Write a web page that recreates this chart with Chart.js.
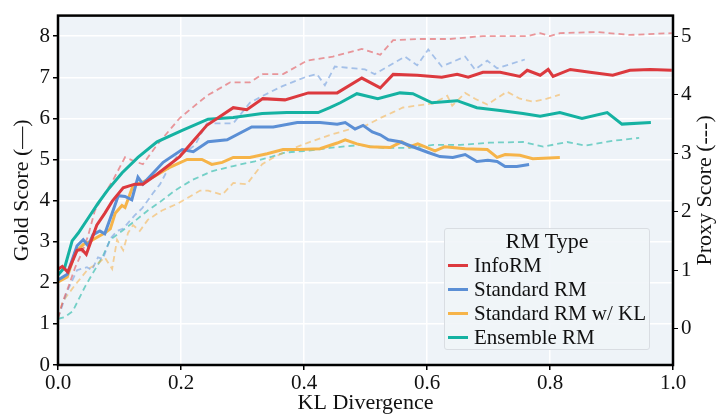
<!DOCTYPE html>
<html>
<head>
<meta charset="utf-8">
<script src="https://cdn.jsdelivr.net/npm/chart.js@4.4.1/dist/chart.umd.min.js"></script>
<style>
  body { margin: 0; background: #fff; }
  #wrap { position: relative; width: 716px; height: 415px; }
  #legend {
    position: absolute; left: 444px; top: 228px; width: 206px; height: 122px;
    box-sizing: border-box; background: rgba(240, 244, 248, 0.85);
    border: 1px solid #d9dde2; border-radius: 3px;
    font-family: "Liberation Serif", "Times New Roman", serif; color: #111;
  }
  #legend .title { text-align: center; font-size: 22px; line-height: 24px; height: 24px; }
  #legend .item { position: relative; height: 24px; line-height: 24px; font-size: 21px; white-space: nowrap; }
  #legend .item span { position: absolute; left: 3px; top: 11px; width: 20px; height: 3px; }
  #legend .item b { position: absolute; left: 29px; font-weight: normal; }
</style>
</head>
<body>
<div id="wrap">
  <canvas id="graphic" width="716" height="415"></canvas>
  <div id="legend"></div>
</div>
<script>
const ctx = document.getElementById('graphic');

const rmTypes = ['InfoRM', 'Standard RM', 'Standard RM w/ KL', 'Ensemble RM'];
const colors = ['#dc393e', '#5b8fd5', '#f6b449', '#15b2a2'];
const dashedColors = ['rgba(228,90,96,0.62)', 'rgba(110,155,220,0.58)', 'rgba(247,180,80,0.58)', 'rgba(40,185,170,0.62)'];

const klTicks = [0, 0.2, 0.4, 0.6, 0.8, 1.0];
const goldTicks = [0, 1, 2, 3, 4, 5, 6, 7, 8];
const proxyTicks = [0, 1, 2, 3, 4, 5];

// InfoRM
const infoGoldKL = [0, 0.007, 0.016, 0.031, 0.039, 0.046, 0.063, 0.076, 0.088, 0.106, 0.125, 0.138, 0.161, 0.198, 0.242, 0.285, 0.307, 0.333, 0.369, 0.407, 0.454, 0.494, 0.524, 0.545, 0.584, 0.624, 0.649, 0.667, 0.691, 0.719, 0.751, 0.763, 0.784, 0.797, 0.805, 0.833, 0.865, 0.902, 0.930, 0.963, 0.998];
const infoGold = [2.33, 2.40, 2.26, 2.79, 2.81, 2.69, 3.40, 3.69, 3.98, 4.31, 4.40, 4.40, 4.64, 5.07, 5.83, 6.26, 6.21, 6.48, 6.45, 6.62, 6.62, 6.98, 6.74, 7.07, 7.05, 7.00, 7.07, 7.00, 7.12, 7.12, 7.02, 7.17, 7.05, 7.19, 7.02, 7.19, 7.12, 7.05, 7.17, 7.19, 7.17];
const infoProxyKL = [0, 0.008, 0.016, 0.028, 0.039, 0.049, 0.060, 0.076, 0.089, 0.109, 0.125, 0.138, 0.161, 0.198, 0.242, 0.280, 0.312, 0.333, 0.366, 0.405, 0.447, 0.494, 0.524, 0.545, 0.589, 0.637, 0.691, 0.763, 0.784, 0.800, 0.816, 0.876, 0.930, 0.998];
const infoProxy = [0.18, 0.47, 0.69, 1.05, 1.30, 1.59, 2.02, 2.31, 2.53, 2.93, 2.86, 2.81, 3.14, 3.60, 3.98, 4.21, 4.21, 4.35, 4.35, 4.58, 4.65, 4.78, 4.68, 4.93, 4.95, 4.95, 5.00, 5.00, 5.05, 5.00, 5.05, 5.07, 5.02, 5.05];

// Standard RM
const stdGoldKL = [0, 0.015, 0.031, 0.041, 0.049, 0.057, 0.068, 0.076, 0.088, 0.098, 0.109, 0.120, 0.130, 0.138, 0.171, 0.202, 0.220, 0.244, 0.275, 0.315, 0.350, 0.389, 0.426, 0.454, 0.467, 0.483, 0.496, 0.511, 0.524, 0.537, 0.556, 0.577, 0.602, 0.621, 0.642, 0.662, 0.681, 0.699, 0.714, 0.727, 0.746, 0.766];
const stdGold = [2.07, 2.21, 2.90, 3.05, 2.90, 3.17, 3.26, 3.19, 3.69, 4.12, 4.10, 4.02, 4.57, 4.40, 4.93, 5.24, 5.19, 5.43, 5.48, 5.79, 5.79, 5.90, 5.90, 5.86, 5.90, 5.74, 5.83, 5.67, 5.60, 5.48, 5.43, 5.31, 5.17, 5.07, 5.05, 5.12, 4.95, 4.98, 4.95, 4.83, 4.83, 4.88];
const stdProxyKL = [0, 0.015, 0.031, 0.047, 0.055, 0.065, 0.073, 0.085, 0.096, 0.106, 0.114, 0.125, 0.137, 0.154, 0.166, 0.177, 0.193, 0.210, 0.223, 0.242, 0.285, 0.312, 0.333, 0.366, 0.405, 0.421, 0.434, 0.450, 0.499, 0.515, 0.564, 0.584, 0.602, 0.624, 0.662, 0.678, 0.698, 0.714, 0.759];
const stdProxy = [0.18, 0.64, 1.00, 1.05, 1.00, 1.22, 1.19, 1.54, 1.67, 1.71, 1.81, 1.94, 2.06, 2.31, 2.47, 2.69, 2.94, 3.04, 3.14, 3.51, 3.51, 3.86, 3.98, 4.15, 4.31, 4.35, 4.16, 4.48, 4.43, 4.35, 4.65, 4.50, 4.77, 4.48, 4.65, 4.43, 4.58, 4.45, 4.60];

// Standard RM w/ KL
const klGoldKL = [0, 0.015, 0.028, 0.041, 0.049, 0.063, 0.076, 0.085, 0.093, 0.104, 0.109, 0.122, 0.138, 0.158, 0.179, 0.210, 0.234, 0.250, 0.267, 0.285, 0.312, 0.340, 0.366, 0.393, 0.426, 0.454, 0.467, 0.486, 0.507, 0.540, 0.559, 0.572, 0.585, 0.600, 0.613, 0.629, 0.662, 0.698, 0.714, 0.727, 0.751, 0.772, 0.816];
const klGold = [2.02, 2.14, 2.74, 2.93, 2.98, 3.10, 3.21, 3.31, 3.69, 3.88, 3.83, 4.36, 4.45, 4.60, 4.79, 5.00, 5.00, 4.88, 4.93, 5.05, 5.05, 5.14, 5.24, 5.24, 5.26, 5.40, 5.48, 5.38, 5.31, 5.29, 5.43, 5.31, 5.38, 5.29, 5.21, 5.31, 5.26, 5.24, 5.05, 5.12, 5.10, 5.02, 5.05];
const klProxyKL = [0, 0.008, 0.028, 0.049, 0.068, 0.076, 0.088, 0.096, 0.106, 0.114, 0.122, 0.133, 0.146, 0.169, 0.195, 0.231, 0.244, 0.267, 0.285, 0.307, 0.332, 0.353, 0.377, 0.407, 0.442, 0.475, 0.502, 0.524, 0.545, 0.561, 0.610, 0.633, 0.641, 0.662, 0.678, 0.698, 0.730, 0.751, 0.772, 0.795, 0.816];
const klProxy = [0.18, 0.47, 0.75, 1.02, 1.14, 1.22, 1.02, 1.52, 1.34, 1.64, 1.77, 1.67, 1.86, 2.02, 2.14, 2.36, 2.36, 2.29, 2.49, 2.47, 2.81, 2.94, 3.06, 3.18, 3.31, 3.41, 3.48, 3.60, 3.70, 3.78, 3.85, 3.98, 3.81, 4.03, 3.93, 3.83, 4.05, 3.93, 3.88, 3.93, 4.00];

// Ensemble RM
const ensGoldKL = [0, 0.011, 0.023, 0.033, 0.049, 0.065, 0.081, 0.104, 0.130, 0.161, 0.202, 0.244, 0.285, 0.332, 0.372, 0.423, 0.442, 0.459, 0.486, 0.520, 0.556, 0.577, 0.608, 0.649, 0.681, 0.719, 0.756, 0.784, 0.816, 0.852, 0.893, 0.917, 0.964];
const ensGold = [2.19, 2.38, 3.02, 3.21, 3.57, 3.93, 4.26, 4.67, 5.05, 5.43, 5.71, 5.98, 6.02, 6.12, 6.14, 6.14, 6.26, 6.38, 6.60, 6.48, 6.62, 6.60, 6.38, 6.43, 6.26, 6.19, 6.12, 6.05, 6.14, 6.00, 6.14, 5.86, 5.90];
const ensProxyKL = [0, 0.011, 0.024, 0.044, 0.055, 0.072, 0.085, 0.104, 0.125, 0.146, 0.169, 0.190, 0.218, 0.250, 0.285, 0.320, 0.348, 0.369, 0.405, 0.442, 0.491, 0.528, 0.572, 0.610, 0.654, 0.702, 0.756, 0.789, 0.828, 0.857, 0.902, 0.945];
const ensProxy = [0.17, 0.20, 0.30, 0.72, 0.92, 1.22, 1.52, 1.67, 1.84, 2.02, 2.19, 2.36, 2.54, 2.69, 2.78, 2.86, 2.94, 3.01, 3.04, 3.09, 3.14, 3.09, 3.09, 3.14, 3.14, 3.18, 3.19, 3.11, 3.19, 3.13, 3.21, 3.26];

const goldSeries = [[infoGoldKL, infoGold], [stdGoldKL, stdGold], [klGoldKL, klGold], [ensGoldKL, ensGold]];
const proxySeries = [[infoProxyKL, infoProxy], [stdProxyKL, stdProxy], [klProxyKL, klProxy], [ensProxyKL, ensProxy]];

function pts(kl, vals) {
    return kl.map((x, i) => ({ x: x, y: vals[i] }));
}

const datasets = [];
goldSeries.forEach(([kl, v], i) => {
    datasets.push({
        label: rmTypes[i], data: pts(kl, v), yAxisID: 'y',
        borderColor: colors[i], borderWidth: 3, pointRadius: 0, tension: 0, order: 0
    });
});
proxySeries.forEach(([kl, v], i) => {
    datasets.push({
        label: rmTypes[i] + ' (proxy)', data: pts(kl, v), yAxisID: 'y2',
        borderColor: dashedColors[i], borderWidth: 1.8, borderDash: [6, 4],
        pointRadius: 0, tension: 0, order: 1
    });
});

const serif = '"Liberation Serif", "Times New Roman", serif';
const tickFont = { family: serif, size: 21 };
const titleFont = { family: serif, size: 22 };

const framePlugin = {
    id: 'frame',
    beforeDraw(chart) {
        const { ctx, chartArea: a } = chart;
        ctx.save();
        ctx.fillStyle = '#eef3f8';
        ctx.fillRect(a.left, a.top, a.right - a.left, a.bottom - a.top);
        ctx.restore();
    },
    afterDatasetsDraw(chart) {
        const { ctx, chartArea: a } = chart;
        ctx.save();
        ctx.strokeStyle = '#000';
        ctx.lineWidth = 2.5;
        ctx.strokeRect(a.left, a.top, a.right - a.left, a.bottom - a.top);
        // right axis title, read bottom to top
        ctx.translate(705, (a.top + a.bottom) / 2);
        ctx.rotate(-Math.PI / 2);
        ctx.fillStyle = '#111';
        ctx.font = '22px ' + serif;
        ctx.textAlign = 'center';
        ctx.textBaseline = 'middle';
        ctx.fillText('Proxy Score (---)', 0, 0);
        ctx.restore();
    }
};

new Chart(ctx, {
    type: 'line',
    data: { datasets: datasets },
    plugins: [framePlugin],
    options: {
        responsive: false,
        animation: false,
        layout: { padding: { top: 8, left: 0, right: 0, bottom: 0 } },
        plugins: { legend: { display: false }, tooltip: { enabled: false } },
        scales: {
            x: {
                type: 'linear', min: 0, max: 1.0,
                afterBuildTicks: (s) => { s.ticks = klTicks.map(v => ({ value: v })); },
                afterFit: (s) => { s.height = 50; },
                ticks: { font: tickFont, color: '#111', padding: 1, maxRotation: 0, callback: (v) => v.toFixed(1) },
                grid: { color: '#ffffff', lineWidth: 1.5, tickColor: '#000', tickLength: 5 },
                border: { display: false },
                title: { display: true, text: 'KL Divergence', font: titleFont, color: '#111', padding: { top: 0, bottom: -1 } }
            },
            y: {
                type: 'linear', position: 'left', min: 0, max: 8.5,
                afterBuildTicks: (s) => { s.ticks = goldTicks.map(v => ({ value: v })); },
                afterFit: (s) => { s.width = 58; },
                ticks: { font: tickFont, color: '#111', padding: 3 },
                grid: { color: '#ffffff', lineWidth: 1.5, tickColor: '#000', tickLength: 5 },
                border: { display: false },
                title: { display: true, text: 'Gold Score (—)', font: titleFont, color: '#111', padding: { top: 9, bottom: 0 } }
            },
            y2: {
                type: 'linear', position: 'right', min: -0.62, max: 5.35,
                afterBuildTicks: (s) => { s.ticks = proxyTicks.map(v => ({ value: v })); },
                afterFit: (s) => { s.width = 43; },
                ticks: { font: tickFont, color: '#111', padding: 3 },
                grid: { drawOnChartArea: false, tickColor: '#000', tickLength: 5 },
                border: { display: false }
            }
        }
    }
});

// legend drawn as html, placed inside the plot
const legend = document.getElementById('legend');
legend.innerHTML = '<div class="title">RM Type</div>' + rmTypes.map((t, i) =>
    `<div class="item"><span style="background:${colors[i]}"></span><b>${t}</b></div>`).join('');
</script>
</body>
</html>
